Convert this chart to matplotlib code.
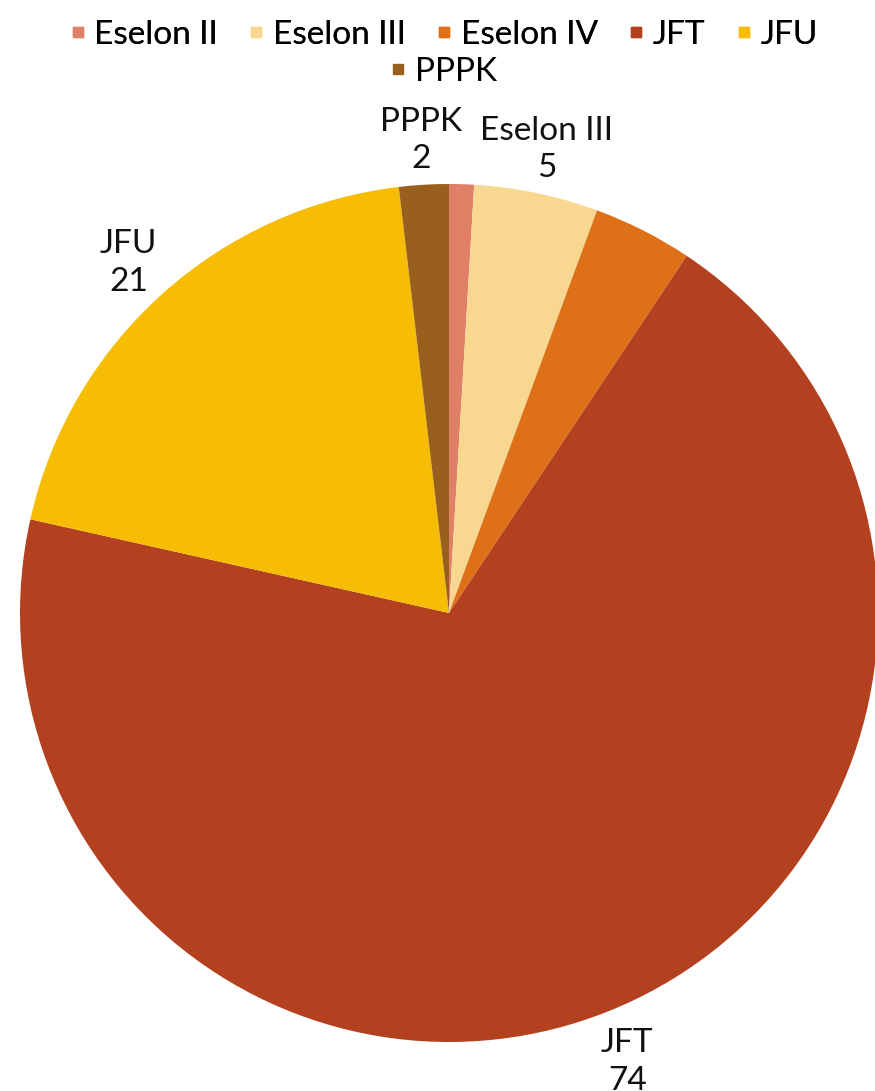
import matplotlib
matplotlib.use("Agg")
import matplotlib.pyplot as plt
from matplotlib.lines import Line2D
import numpy as np

categories = ["Eselon II", "Eselon III", "Eselon IV", "JFT", "JFU", "PPPK"]
values = [1, 5, 4, 74, 21, 2]
colors = ["#E08066", "#F8D891", "#DE7118", "#B3411F", "#F6BD04", "#99601D"]
shown_labels = ["Eselon III", "JFT", "JFU", "PPPK"]

plt.rcParams['font.family'] = ['Lato', 'DejaVu Sans']

fig = plt.figure(figsize=(8.75, 10.91), dpi=100)
ax = fig.add_axes([20/875, 49/1091, 858/875, 858/1091])

wedges, _ = ax.pie(values, colors=colors, startangle=90, counterclock=False,
                   radius=1, wedgeprops=dict(linewidth=0))
ax.set_xlim(-1, 1)
ax.set_ylim(-1, 1)
ax.set_aspect('equal')
ax.axis('off')

for w, cat, v in zip(wedges, categories, values):
    if cat not in shown_labels:
        continue
    mid = np.deg2rad((w.theta1 + w.theta2) / 2)
    r = 1.115
    ax.text(r * np.cos(mid), r * np.sin(mid) - 0.012, f"{cat}\n{v}", ha='center', va='center',
            fontsize=24, color='#111111', linespacing=1.3, clip_on=False)

def handle(c):
    return Line2D([], [], marker='s', linestyle='none', markersize=7,
                  markerfacecolor=c, markeredgecolor=c)

handles = [handle(c) for c in colors]
leg1 = fig.legend(handles[:5], categories[:5], loc='center', bbox_to_anchor=(0.508, 1 - 35/1091),
                  ncol=5, frameon=False, fontsize=24, handlelength=0.4, handletextpad=0.3,
                  columnspacing=0.95, borderaxespad=0, borderpad=0)
fig.add_artist(leg1)
leg2 = fig.legend(handles[5:], categories[5:], loc='center', bbox_to_anchor=(0.508, 1 - 72/1091),
                  ncol=1, frameon=False, fontsize=24, handlelength=0.4, handletextpad=0.3,
                  borderaxespad=0, borderpad=0)

fig.savefig("out.png", dpi=100)
